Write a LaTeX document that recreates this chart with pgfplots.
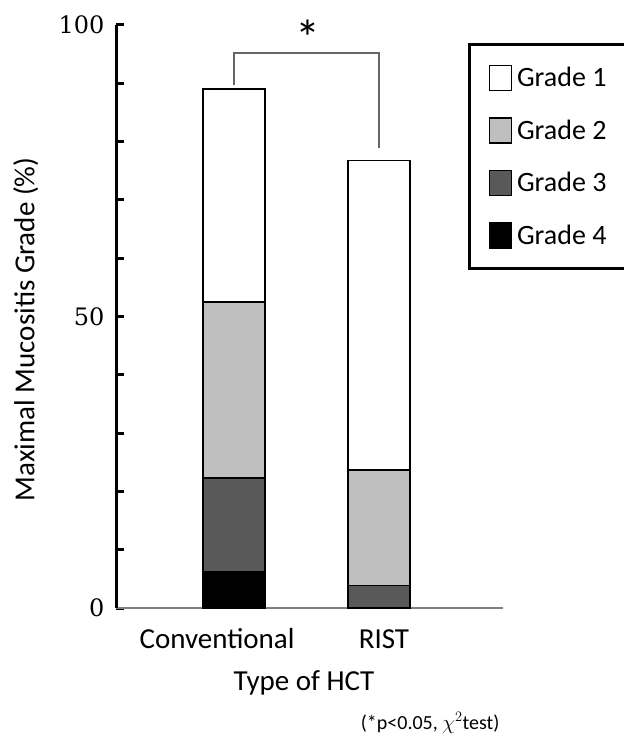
\documentclass[border=0pt]{standalone}
\usepackage{pgfplots}
\pgfplotsset{compat=1.18}
\usepackage{fontspec}
\setmainfont{Carlito}
\newfontfamily\tickfont{DejaVu Serif}
\definecolor{gtwo}{RGB}{191,191,191}
\definecolor{gthree}{RGB}{89,89,89}
\begin{document}
\begin{tikzpicture}
\useasboundingbox (0,0) rectangle (624pt,742pt);
\begin{axis}[
  at={(116pt,134pt)}, anchor=south west,
  scale only axis, width=387pt, height=583pt,
  ybar stacked, bar width=62pt,
  xmin=-0.814, xmax=1.855, ymin=0, ymax=100,
  axis lines=left, axis line style={-},
  x axis line style={draw=gray, line width=2pt},
  y axis line style={draw=black, line width=3pt},
  ytick={0,50,100}, minor ytick={10,20,30,40,60,70,80,90},
  tick align=inside, major tick length=8pt, minor tick length=8pt,
  ytick style={draw=black, line width=3pt},
  xtick={-0.117,1.034}, xticklabels={Conventional,RIST},
  xtick style={draw=none},
  /pgf/number format/assume math mode=true,
  yticklabel style={font=\tickfont\fontsize{24}{24}\selectfont, xshift=-8pt},
  xticklabel style={font=\fontsize{29}{29}\selectfont, anchor=base, yshift=-40pt},
  xlabel={Type of HCT},
  xlabel style={font=\fontsize{29}{29}\selectfont, at={(axis description cs:0.486,0)}, anchor=base, yshift=-82pt},
  ylabel={Maximal Mucositis Grade (\%)},
  ylabel style={font=\fontsize{29}{29}\selectfont, at={(axis description cs:-0.233,0.478)}, anchor=center},
  clip=false,
  reverse legend,
  legend image code/.code={\draw[#1, line width=1.5pt] (0pt,-12.5pt) rectangle (22pt,12.5pt);},
  legend style={at={(axis description cs:0.9096,0.969)}, anchor=north west,
    draw=black, line width=3pt, inner xsep=19pt, inner ysep=20pt,
    font=\fontsize{28}{28}\selectfont, row sep=26pt,
    nodes={inner sep=0pt},
    /tikz/every odd column/.style={column sep=5pt}},
  legend cell align=left,
]
\addplot[fill=black, draw=black, line width=1.5pt] coordinates {(0,6.2) (1,0)};
\addplot[fill=gthree, draw=black, line width=1.5pt] coordinates {(0,16.1) (1,3.9)};
\addplot[fill=gtwo, draw=black, line width=1.5pt] coordinates {(0,30.2) (1,19.8)};
\addplot[fill=white, draw=black, line width=1.5pt] coordinates {(0,36.5) (1,53.1)};
\legend{Grade 4,Grade 3,Grade 2,Grade 1}
\draw[gray!80!black, line width=2pt] (axis cs:0,89.7) -- (axis cs:0,95.2) -- (axis cs:1,95.2) -- (axis cs:1,78.9);
\node[font=\fontsize{50}{50}\selectfont, anchor=north] at (axis cs:0.51,101.5) {*};
\node[anchor=base east, font=\fontsize{20}{20}\selectfont, yshift=-121pt] at (rel axis cs:1,0) {(*p<0.05, $\chi^2$test)};
\end{axis}
\end{tikzpicture}
\end{document}
